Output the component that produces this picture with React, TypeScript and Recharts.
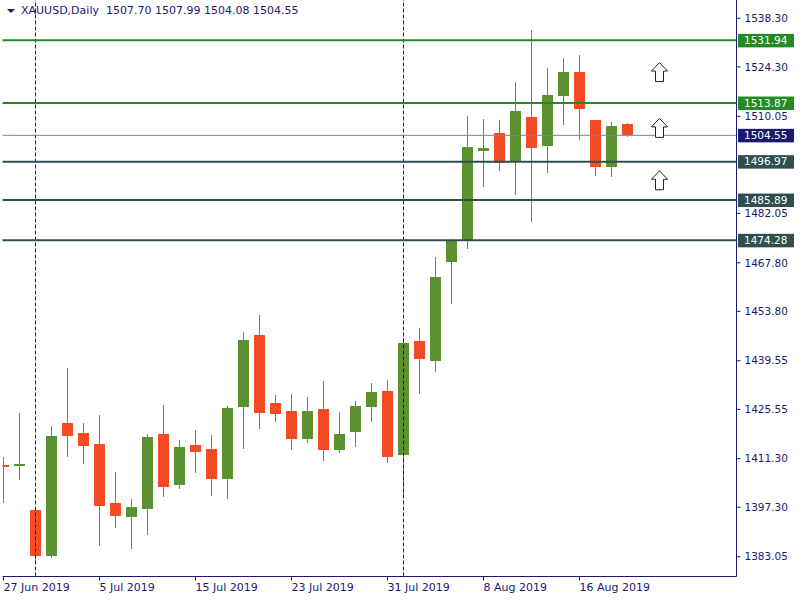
import React from "react";
import { ComposedChart, Bar, XAxis, YAxis, ReferenceLine, Scatter } from "recharts";

// daily bars, 27 Jun 2019 .. 21 Aug 2019
const dates = [
  "27 Jun", "28 Jun", "1 Jul", "2 Jul", "3 Jul", "4 Jul", "5 Jul", "8 Jul", "9 Jul", "10 Jul",
  "11 Jul", "12 Jul", "15 Jul", "16 Jul", "17 Jul", "18 Jul", "19 Jul", "22 Jul", "23 Jul", "24 Jul",
  "25 Jul", "26 Jul", "29 Jul", "30 Jul", "31 Jul", "1 Aug", "2 Aug", "5 Aug", "6 Aug", "7 Aug",
  "8 Aug", "9 Aug", "12 Aug", "13 Aug", "14 Aug", "15 Aug", "16 Aug", "19 Aug", "20 Aug", "21 Aug",
];
const opens = [
  1409.4, 1409.4, 1396.5, 1383.25, 1421.6, 1418.7, 1415.55, 1398.5, 1394.6, 1396.9,
  1418.4, 1403.8, 1415.3, 1414.1, 1405.5, 1426.3, 1447.1, 1427.4, 1425.1, 1417.1,
  1425.6, 1413.9, 1419.1, 1426.3, 1430.8, 1412.5, 1445.25, 1439.6, 1468.0, 1474.1,
  1500.1, 1505.2, 1497.2, 1509.8, 1501.6, 1515.9, 1522.9, 1509.0, 1495.5, 1507.7,
];
const highs = [
  1411.9, 1424.4, 1397.45, 1420.7, 1437.5, 1421.6, 1423.9, 1407.5, 1399.7, 1418.4,
  1426.8, 1416.7, 1419.6, 1418.1, 1426.5, 1447.8, 1452.8, 1429.7, 1430.0, 1429.1,
  1433.7, 1424.8, 1427.95, 1433.1, 1434.0, 1446.1, 1448.9, 1469.5, 1474.7, 1510.1,
  1509.3, 1509.0, 1520.0, 1534.9, 1523.9, 1526.8, 1527.7, 1509.0, 1508.4, 1507.99,
];
const lows = [
  1398.45, 1405.2, 1381.3, 1382.8, 1411.9, 1409.9, 1386.2, 1391.4, 1385.4, 1389.4,
  1400.4, 1402.7, 1407.3, 1400.6, 1399.8, 1414.2, 1420.0, 1422.0, 1413.9, 1415.9,
  1410.7, 1413.0, 1414.8, 1422.0, 1410.2, 1400.1, 1430.0, 1436.4, 1456.0, 1471.8,
  1489.7, 1494.4, 1487.35, 1479.65, 1493.8, 1507.5, 1503.2, 1492.8, 1492.5, 1504.08,
];
const closes = [
  1408.8, 1409.9, 1383.25, 1417.9, 1417.9, 1415.1, 1397.8, 1394.9, 1397.4, 1417.6,
  1403.2, 1414.7, 1413.3, 1405.5, 1425.9, 1445.5, 1424.6, 1424.3, 1417.1, 1425.1,
  1413.9, 1418.4, 1426.5, 1430.5, 1411.9, 1444.6, 1440.1, 1463.7, 1474.1, 1501.2,
  1500.8, 1496.7, 1511.6, 1501.0, 1516.2, 1522.9, 1512.2, 1495.5, 1507.24, 1504.55,
];

const dateTickIdx = [0, 6, 12, 18, 24, 30, 36];
const dateTickLabels = ["27 Jun 2019", "5 Jul 2019", "15 Jul 2019", "23 Jul 2019", "31 Jul 2019", "8 Aug 2019", "16 Aug 2019"];

const priceTicks = [1383.05, 1397.3, 1411.3, 1425.55, 1439.55, 1453.8, 1467.8, 1482.05, 1510.05, 1524.3, 1538.3];

const greenLevels = [1531.94, 1513.87];
const darkLevels = [1496.97, 1485.89, 1474.28];
const lastPrice = 1504.55;
const monthSeparators = [2, 25];
const arrowIdx = [41, 41, 41];
const arrowPrice = [1522.8, 1506.7, 1491.6];
const header = "XAUUSD,Daily\u00a0\u00a01507.70 1507.99 1504.08 1504.55";

const UP = "#5b9130";
const DOWN = "#f44b25";
const NAVY = "#1c186e";
const FONT = "DejaVu Sans";

const candles = dates.map((d, i) => ({
  i,
  date: d,
  o: opens[i],
  h: highs[i],
  l: lows[i],
  c: closes[i],
}));
const arrows = arrowIdx.map((i, n) => ({ i, v: arrowPrice[n] }));

function Candle(props: any) {
  const { x, y, width, height, payload } = props;
  const { o, h, l, c } = payload;
  const k = h === l ? 0 : height / (h - l);
  const yO = y + (h - o) * k;
  const yC = y + (h - c) * k;
  const color = c >= o ? UP : DOWN;
  const top = Math.round(Math.min(yO, yC));
  const bot = Math.max(Math.round(Math.max(yO, yC)), top + 2);
  const left = Math.round(x);
  const w = Math.round(width);
  const cx = left + Math.floor(w / 2) + 0.5;
  return (
    <g>
      <line x1={cx} x2={cx} y1={Math.round(y)} y2={Math.round(y + height)} stroke={color} strokeWidth={1} shapeRendering="crispEdges" />
      <rect x={left} y={top} width={w} height={bot - top} fill={color} shapeRendering="crispEdges" />
    </g>
  );
}

function Arrow(props: any) {
  const { cx, cy } = props;
  const t = cy - 9.5;
  const b = cy + 9.5;
  const hb = t + 8.5;
  const d = `M${cx},${t} L${cx + 8},${hb} L${cx + 4},${hb} L${cx + 4},${b} L${cx - 4},${b} L${cx - 4},${hb} L${cx - 8},${hb} Z`;
  return <path d={d} fill="#fff" stroke="#222" strokeWidth={1} />;
}

function LevelTag({ viewBox, price, bg }: any) {
  const right = viewBox.x + viewBox.width;
  return (
    <g>
      <rect x={right + 1.5} y={viewBox.y - 6.5} width={56} height={13.5} fill={bg} />
      <text x={right + 7.5} y={viewBox.y} dy="0.36em" fill="#fff" fontSize={10.5} fontFamily={FONT}>
        {price.toFixed(2)}
      </text>
    </g>
  );
}

function DateTick({ x, y, payload }: any) {
  const n = dateTickIdx.indexOf(payload.value);
  return (
    <text x={x} y={y} dy="0.71em" textAnchor="start" fill={NAVY} fontSize={11} fontFamily={FONT}>
      {dateTickLabels[n]}
    </text>
  );
}

export default function App() {
  return (
    <div style={{ position: "absolute", left: 0, top: 0, width: 800, height: 600, background: "#fff" }}>
      <ComposedChart
        width={800}
        height={600}
        data={candles}
        margin={{ top: 0, right: 0, bottom: 0, left: 2.5 }}
      >
        <XAxis
          dataKey="i"
          type="number"
          domain={[-0.0625, 45.8125]}
          allowDataOverflow
          ticks={dateTickIdx}
          interval={0}
          height={23.5}
          tickSize={4}
          tickMargin={3}
          axisLine={{ stroke: NAVY }}
          tickLine={{ stroke: NAVY }}
          tick={<DateTick />}
        />
        <YAxis
          yAxisId="edge"
          orientation="left"
          width={0}
          domain={[0, 1]}
          tick={false}
          tickLine={false}
          axisLine={{ stroke: NAVY }}
        />
        <YAxis
          yAxisId="p"
          orientation="right"
          type="number"
          domain={[1377.34, 1543.58]}
          allowDataOverflow
          ticks={priceTicks}
          interval={0}
          width={63.5}
          tickSize={4}
          tickMargin={4}
          axisLine={{ stroke: NAVY }}
          tickLine={{ stroke: NAVY }}
          tick={{ fill: NAVY, fontSize: 10.5, fontFamily: FONT }}
          tickFormatter={(v: number) => v.toFixed(2)}
        />
        {monthSeparators.map((m) => (
          <ReferenceLine key={"sep" + m} x={m} yAxisId="p" stroke={NAVY} strokeDasharray="4 2" />
        ))}
        <ReferenceLine
          y={lastPrice}
          yAxisId="p"
          stroke="#778899"
          strokeWidth={1}
          label={(p: any) => <LevelTag viewBox={p.viewBox} price={lastPrice} bg="#191970" />}
        />
        {greenLevels.map((v) => (
          <ReferenceLine
            key={"g" + v}
            y={v}
            yAxisId="p"
            stroke="#228b22"
            strokeWidth={2}
            label={(p: any) => <LevelTag viewBox={p.viewBox} price={v} bg="#228b22" />}
          />
        ))}
        {darkLevels.map((v) => (
          <ReferenceLine
            key={"d" + v}
            y={v}
            yAxisId="p"
            stroke="#2f4f4f"
            strokeWidth={2}
            label={(p: any) => <LevelTag viewBox={p.viewBox} price={v} bg="#2f4f4f" />}
          />
        ))}
        <Bar
          yAxisId="p"
          dataKey={(d: any) => [d.l, d.h]}
          barSize={11}
          shape={<Candle />}
          isAnimationActive={false}
        />
        <Scatter
          yAxisId="p"
          data={arrows}
          dataKey="v"
          shape={<Arrow />}
          isAnimationActive={false}
        />
      </ComposedChart>
      <div
        style={{
          position: "absolute",
          left: 7,
          top: 4,
          fontFamily: FONT,
          fontSize: 11,
          color: NAVY,
          display: "flex",
          alignItems: "center",
          whiteSpace: "pre",
        }}
      >
        <svg width={14} height={8}>
          <polygon points="0,2 8,2 4,6" fill={NAVY} />
        </svg>
        <span>{header}</span>
      </div>
    </div>
  );
}
